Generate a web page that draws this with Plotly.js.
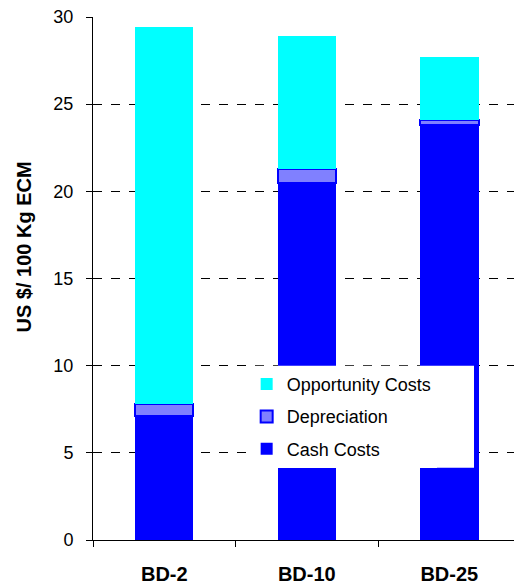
<!DOCTYPE html>
<html>
<head>
<meta charset="utf-8">
<script src="https://cdn.plot.ly/plotly-3.0.1.min.js"></script>
<style>html,body{margin:0;padding:0;background:#fff;}#chart{width:514px;height:585px;}</style>
</head>
<body>
<div id="chart"></div>
<script>
var categories = ["BD-2", "BD-10", "BD-25"];
var cashCosts = [7.1, 20.5, 23.8];
var depreciation = [0.7, 0.8, 0.3];
var opportunityCosts = [21.6, 7.6, 3.6];
var yTicks = [0, 5, 10, 15, 20, 25, 30];
var yTitle = "US $/ 100 Kg ECM";

var FONT = "Arial, Liberation Sans, sans-serif";

var traces = [
  {type: "bar", name: "Cash Costs", x: categories, y: cashCosts, legendrank: 3, legendgroup: "c",
   marker: {color: "#0000FF", line: {width: 0}}, width: 0.41},
  {type: "bar", name: "Depreciation", x: categories, y: depreciation, legendrank: 2, legendgroup: "d",
   marker: {color: "#8080FF", line: {color: "#0000FF", width: 2}}, width: 0.41},
  {type: "bar", name: "Opportunity Costs", x: categories, y: opportunityCosts, legendrank: 1, legendgroup: "o",
   marker: {color: "#00FFFF", line: {width: 0}}, width: 0.41}
];

var layout = {
  width: 514, height: 585,
  margin: {l: 93, r: 0, t: 17, b: 45},
  paper_bgcolor: "#fff", plot_bgcolor: "#fff",
  barmode: "stack",
  font: {family: FONT, color: "#000"},
  showlegend: true,
  legend: {
    x: 0.365, y: 0.333, xanchor: "left", yanchor: "top",
    bgcolor: "#fff", borderwidth: 0,
    traceorder: "grouped", tracegroupgap: 6,
    font: {size: 18, family: FONT, color: "#000"},
    itemwidth: 30
  },
  // white legend box background (extends the legend panel to the right)
  shapes: [{
    type: "rect", xref: "paper", yref: "paper", layer: "above",
    x0: 0.368, x1: 0.905, y0: 0.138, y1: 0.333,
    fillcolor: "#fff", line: {width: 0}
  }],
  xaxis: {
    range: [-0.5, 2.454], fixedrange: true,
    tickson: "boundaries", ticks: "outside", ticklen: 6, tickcolor: "#000",
    showline: true, linecolor: "#000", linewidth: 1,
    showgrid: false,
    tickfont: {size: 20, family: FONT, weight: "bold", color: "#000"},
    ticklabelstandoff: 16
  },
  yaxis: {
    range: [0, 30], tickvals: yTicks, ticktext: yTicks.map(String),
    ticks: "outside", ticklen: 6, tickcolor: "#000",
    showline: true, linecolor: "#000", linewidth: 1,
    showgrid: true, gridcolor: "#000", gridwidth: 1, griddash: "dash",
    zeroline: false,
    ticklabelstandoff: 9,
    tickfont: {size: 18, family: FONT, color: "#000"}
  },
  annotations: [{
    text: yTitle, textangle: -90, showarrow: false,
    xref: "paper", yref: "paper", x: -0.163, y: 0.56, xanchor: "center", yanchor: "middle",
    font: {size: 20, family: FONT, weight: "bold", color: "#000"}
  }]
};

Plotly.newPlot("chart", traces, layout, {displayModeBar: false, staticPlot: true});
</script>
</body>
</html>
